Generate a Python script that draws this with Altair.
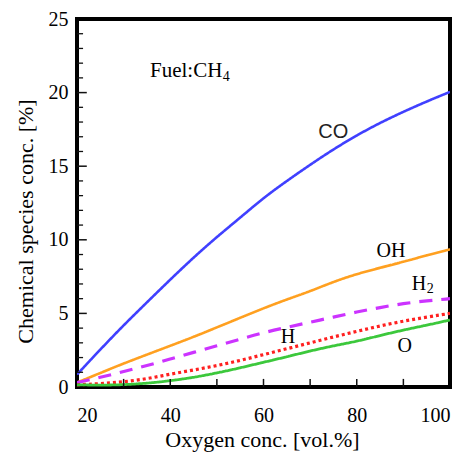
import altair as alt
import pandas as pd

# x positions (oxygen concentration, vol.%)
oxygen = [20, 25, 30, 35, 40, 45, 50, 55, 60, 65, 70, 75, 80, 85, 90, 95, 100]

# species concentrations [%]
co = [0.85, 2.55, 4.2, 5.75, 7.3, 8.8, 10.2, 11.5, 12.85, 14.0, 15.1, 16.15, 17.1, 17.95, 18.7, 19.4, 20.05]
oh = [0.3, 0.95, 1.6, 2.2, 2.8, 3.4, 4.05, 4.7, 5.35, 5.95, 6.5, 7.15, 7.68, 8.1, 8.5, 8.95, 9.35]
h2 = [0.3, 0.65, 1.05, 1.45, 1.9, 2.35, 2.8, 3.25, 3.7, 4.05, 4.4, 4.75, 5.1, 5.4, 5.68, 5.85, 6.0]
h = [0.15, 0.22, 0.35, 0.55, 0.88, 1.15, 1.45, 1.8, 2.2, 2.6, 3.0, 3.4, 3.78, 4.15, 4.48, 4.75, 5.0]
o = [0.15, 0.12, 0.15, 0.25, 0.42, 0.65, 0.95, 1.3, 1.68, 2.05, 2.45, 2.8, 3.1, 3.5, 3.87, 4.2, 4.55]

series_names = ["CO", "OH", "H2", "H", "O"]
series_values = [co, oh, h2, h, o]
series_colors = ["#4040ff", "#ffa020", "#cc33ff", "#ff2020", "#3cc83c"]
series_dash = [[1, 0], [1, 0], [13, 9], [3, 3], [1, 0]]
series_width = [2.6, 2.6, 3.2, 3.2, 2.8]

# axis tick values
x_labels = [20, 40, 60, 80, 100]
y_labels = [0, 5, 10, 15, 20, 25]
x_ticks = [30, 40, 50, 60, 70, 80, 90]
y_major = [5, 10, 15, 20]
y_minor = [v for v in range(1, 25) if v % 5 != 0]

# annotations
ann_text = ["Fuel:CH", "4", "CO", "OH", "H", "2", "H", "O"]
ann_x = [35.66, 51.25, 71.75, 84.26, 91.79, 95.0, 63.69, 88.76]
ann_y = [21.08, 20.81, 16.9, 8.85, 6.59, 6.41, 3.01, 2.41]
ann_size = [21, 14, 20, 20, 20, 14, 20, 20]
ann_font = ["Liberation Serif", "Liberation Serif", "Liberation Sans", "Liberation Serif",
            "Liberation Serif", "Liberation Serif", "Liberation Serif", "Liberation Serif"]
ann_color = ["black", "black", "#222222", "black", "black", "black", "black", "black"]

SERIF = "Liberation Serif"

xscale = alt.Scale(domain=[20, 100], nice=False, zero=False)
yscale = alt.Scale(domain=[0, 25], nice=False)

xaxis = alt.Axis(values=x_labels, title="Oxygen conc. [vol.%]", tickSize=0, domain=False,
                 grid=False, labelFont=SERIF, labelFontSize=20, labelColor="black",
                 labelPadding=34, labelBaseline="alphabetic",
                 titleFont=SERIF, titleFontSize=22, titleFontWeight="normal", titleColor="black",
                 titleBaseline="alphabetic", titleY=59, titleX=185)
yaxis = alt.Axis(values=y_labels, title="Chemical species conc. [%]", tickSize=0, domain=False,
                 grid=False, labelFont=SERIF, labelFontSize=20, labelColor="black",
                 labelPadding=9,
                 titleFont=SERIF, titleFontSize=22, titleFontWeight="normal", titleColor="black",
                 titleBaseline="alphabetic", titleX=-45, titleY=202, titleAngle=270)


def X(field):
    return alt.X(field, scale=xscale, axis=xaxis, title="Oxygen conc. [vol.%]")


def Y(field):
    return alt.Y(field, scale=yscale, axis=yaxis, title="Chemical species conc. [%]")


rows = []
for name, vals in zip(series_names, series_values):
    for xv, yv in zip(oxygen, vals):
        rows.append({"species": name, "oxygen": xv, "conc": yv})
df = pd.DataFrame(rows)

layers = []
for name, col, dash, w in zip(series_names, series_colors, series_dash, series_width):
    sub = df[df["species"] == name]
    layers.append(
        alt.Chart(sub).mark_line(color=col, strokeWidth=w, strokeDash=dash,
                                 interpolate="basis", strokeCap="butt", clip=True)
        .encode(x=X("oxygen:Q"), y=Y("conc:Q"))
    )

# inside ticks
xt = pd.DataFrame({"v": x_ticks})
layers.append(
    alt.Chart(xt).mark_rule(color="#111111", strokeWidth=1.5)
    .encode(x=X("v:Q"), y=alt.datum(0), y2=alt.datum(0.55))
)
ymaj = pd.DataFrame({"v": y_major})
layers.append(
    alt.Chart(ymaj).mark_rule(color="#111111", strokeWidth=1.5)
    .encode(y=Y("v:Q"), x=alt.datum(20), x2=alt.datum(22.1))
)
ymin = pd.DataFrame({"v": y_minor})
layers.append(
    alt.Chart(ymin).mark_rule(color="#111111", strokeWidth=1.3)
    .encode(y=Y("v:Q"), x=alt.datum(20), x2=alt.datum(21.3))
)

for t, xv, yv, s, f, c in zip(ann_text, ann_x, ann_y, ann_size, ann_font, ann_color):
    d = pd.DataFrame({"t": [t], "x": [xv], "y": [yv]})
    layers.append(
        alt.Chart(d).mark_text(font=f, fontSize=s, color=c, align="left", baseline="alphabetic")
        .encode(x=X("x:Q"), y=Y("y:Q"), text="t:N")
    )

chart = (
    alt.layer(*layers)
    .properties(width=373, height=368,
                autosize=alt.AutoSizeParams(type="none"),
                padding={"left": 69, "top": 11, "right": 16, "bottom": 66},
                background="white")
    .configure_view(stroke="black", strokeWidth=4)
)

chart.save("out.html", embed_options={"renderer": "svg", "actions": False})
